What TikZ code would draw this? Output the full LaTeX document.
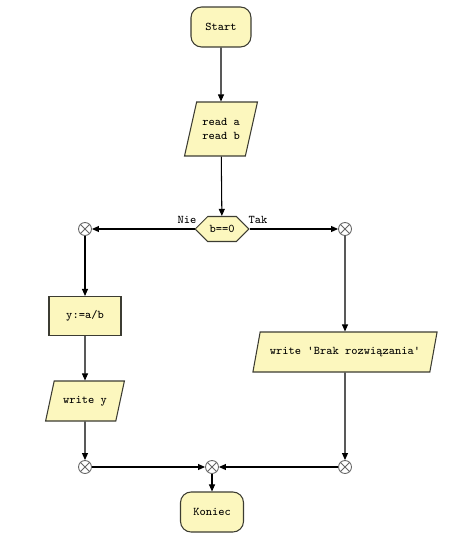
\documentclass[tikz,border=0pt]{standalone}
\usepackage{fontspec}
\usepackage{tikz}
\usetikzlibrary{shapes.geometric, shapes.symbols, arrows.meta, positioning}

\definecolor{boxfill}{RGB}{252,247,190}
\definecolor{boxline}{RGB}{60,60,50}

\begin{document}
\begin{tikzpicture}[x=0.02cm, y=-0.02cm,
    font=\fontsize{6.7}{8.2}\selectfont\ttfamily,
    flow/.style={-{Triangle[length=4pt, width=3.4pt]}, line width=0.6pt},
    term/.style={draw=boxline, fill=boxfill, rounded corners=6pt,
                 minimum width=1.2cm, minimum height=0.8cm, line width=0.6pt},
    proc/.style={draw=boxline, fill=boxfill, minimum width=1.44cm,
                 minimum height=0.78cm, line width=0.6pt},
    io/.style={draw=boxline, fill=boxfill, trapezium, trapezium left angle=73,
               trapezium right angle=107, trapezium stretches=true,
               minimum height=0.8cm, inner xsep=1pt, align=center, line width=0.6pt},
    cond/.style={draw=boxline, fill=boxfill, signal, signal to=east and west,
                 minimum width=1.02cm, minimum height=0.5cm, inner sep=1pt,
                 line width=0.6pt},
    junc/.style={circle, draw=gray!80!black, fill=white, minimum size=0.26cm,
                 inner sep=0pt, line width=0.5pt,
                 path picture={\draw[gray!80!black, line width=0.5pt]
                   (path picture bounding box.north west) -- (path picture bounding box.south east)
                   (path picture bounding box.north east) -- (path picture bounding box.south west);}}]

    \useasboundingbox (0,0) rectangle (474,554);

    \node[term] (start) at (221,27) {Start};
    \node[io, minimum width=1.46cm, minimum height=1.08cm] (read) at (221,129) {read a\\read b};
    \node[cond] (test) at (222,229) {b==0};
    \node (nie) at (187,220) {Nie};
    \node (tak) at (258,220) {Tak};

    \node[junc] (jl) at (85,229) {};
    \node[junc] (jr) at (345,229) {};

    \node[proc] (calc) at (85,316) {y:=a/b};
    \node[io, minimum width=1.58cm] (wy) at (85,401) {write y};
    \node[io, minimum width=3.7cm] (brak) at (345,352) {write 'Brak rozwiązania'};

    \node[junc] (jbl) at (85,467) {};
    \node[junc] (jm) at (212,467) {};
    \node[junc] (jbr) at (345,467) {};
    \node[term, minimum width=1.26cm] (end) at (212,512) {Koniec};

    \draw[flow] (start) -- (read);
    \draw[flow] (read) -- (test);
    \draw[flow] (test.west) -- (jl);
    \draw[flow] (test.east) -- (jr);
    \draw[flow] (jl) -- (calc);
    \draw[flow] (calc) -- (wy);
    \draw[flow] (wy) -- (jbl);
    \draw[flow] (jr) -- (brak);
    \draw[flow] (brak) -- (jbr);
    \draw[flow] (jbl) -- (jm);
    \draw[flow] (jbr) -- (jm);
    \draw[flow] (jm) -- (end);
\end{tikzpicture}
\end{document}
